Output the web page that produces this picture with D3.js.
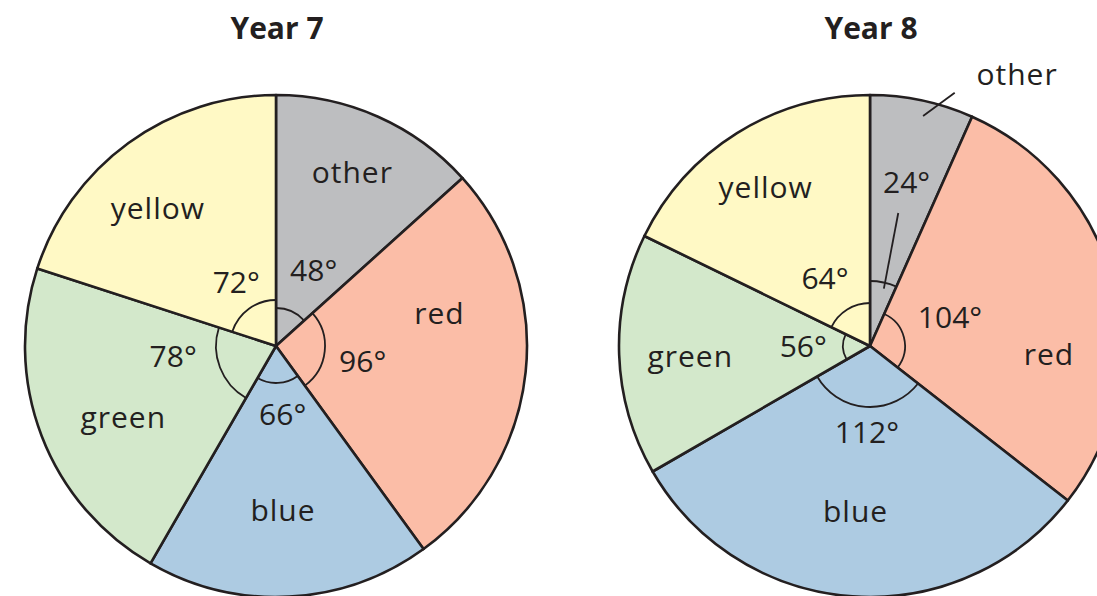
<!DOCTYPE html>
<html>
<head>
<meta charset="utf-8">
<script src="https://cdn.jsdelivr.net/npm/d3@7"></script>
<style>
  html, body { margin: 0; padding: 0; background: #ffffff; }
  svg { display: block; }
  text { font-family: "Open Sans", "Noto Sans", sans-serif; fill: #231f20; }
</style>
</head>
<body>
<svg id="chart" width="1097" height="596"></svg>
<script>
// ---------- data ----------
const categories = ["other", "red", "blue", "green", "yellow"];
const year7Degrees = [48, 96, 66, 78, 72];
const year8Degrees = [24, 104, 112, 56, 64];
const chartTitles = ["Year 7", "Year 8"];

// ---------- styles ----------
const sliceColors = ["#bdbec0", "#fbbda7", "#adcbe2", "#d3e8cb", "#fff9c5"];
const ink = "#231f20";

// ---------- layout (positions kept apart from data) ----------
const pieCentres = [[276, 346], [870, 346]];
const pieRadius = 251;
// polar [angle in degrees clockwise from 12 o'clock, radius] of each label baseline point
const nameLabelPolar = [
  [[25.1, 180], [82.3, 165], [177.7, 175], [241.7, 173.5], [317.1, 173.5]],
  [[29.4, 299.5], [96.1, 180], [184.7, 176.6], [263.2, 181], [324.8, 181]]
];
const degreeLabelPolar = [
  [[30.0, 75.4], [106.7, 90.5], [175.2, 79.6], [258.3, 105], [323.3, 66.5]],
  [[13.5, 157], [77.1, 82.1], [181.8, 97.3], [260.4, 67.7], [321.7, 72.6]]
];
const angleMarkRadius = [
  [38, 49, 37, 60, 46],
  [65, 35, 61, 27, 43]
];
// leader lines [from polar, to polar] — only Year 8 has them
const leaderLines = [
  [],
  [ { from: [13.0, 236], to: [18.5, 267] },   // "other" label
    { from: [12.0, 136], to: [13.6, 59] } ]   // "24°" label
];

const svg = d3.select("#chart");
const rad = d => d * Math.PI / 180;
const polar = (c, a, r) => [c[0] + r * Math.sin(rad(a)), c[1] - r * Math.cos(rad(a))];

const pie = d3.pie().sort(null).value(d => d.value)
  .startAngle(0).endAngle(2 * Math.PI);
const arcGen = d3.arc().innerRadius(0).outerRadius(pieRadius);

[year7Degrees, year8Degrees].forEach((vals, pi) => {
  const c = pieCentres[pi];
  const data = categories.map((name, i) => ({ name, value: vals[i], i }));
  const arcs = pie(data);

  const g = svg.append("g").attr("transform", `translate(${c[0]},${c[1]})`);

  // slices
  g.selectAll("path.slice").data(arcs).enter().append("path")
    .attr("class", "slice")
    .attr("d", arcGen)
    .attr("fill", d => sliceColors[d.data.i])
    .attr("stroke", ink)
    .attr("stroke-width", 2.6)
    .attr("stroke-linejoin", "round");

  // angle marks
  g.selectAll("path.mark").data(arcs).enter().append("path")
    .attr("class", "mark")
    .attr("d", d => {
      const p = d3.path();
      const r = angleMarkRadius[pi][d.data.i];
      p.arc(0, 0, r, d.startAngle - Math.PI / 2, d.endAngle - Math.PI / 2, false);
      return p.toString();
    })
    .attr("fill", "none")
    .attr("stroke", ink)
    .attr("stroke-width", 1.8);

  // leader lines
  leaderLines[pi].forEach(l => {
    const a = polar([0, 0], l.from[0], l.from[1]);
    const b = polar([0, 0], l.to[0], l.to[1]);
    g.append("line")
      .attr("x1", a[0]).attr("y1", a[1]).attr("x2", b[0]).attr("y2", b[1])
      .attr("stroke", ink).attr("stroke-width", 1.8);
  });

  // names
  g.selectAll("text.name").data(arcs).enter().append("text")
    .attr("class", "name")
    .attr("x", d => polar([0, 0], ...nameLabelPolar[pi][d.data.i])[0])
    .attr("y", d => polar([0, 0], ...nameLabelPolar[pi][d.data.i])[1])
    .attr("text-anchor", "middle")
    .attr("font-size", 30)
    .attr("letter-spacing", 1)
    .text(d => d.data.name);

  // degree values
  g.selectAll("text.deg").data(arcs).enter().append("text")
    .attr("class", "deg")
    .attr("x", d => polar([0, 0], ...degreeLabelPolar[pi][d.data.i])[0])
    .attr("y", d => polar([0, 0], ...degreeLabelPolar[pi][d.data.i])[1])
    .attr("text-anchor", "middle")
    .attr("font-size", 30)
    .text(d => d.data.value + "°");

  // title
  svg.append("text")
    .attr("x", c[0] + 1)
    .attr("y", 39)
    .attr("text-anchor", "middle")
    .attr("font-size", 30)
    .attr("font-weight", "bold")
    .text(chartTitles[pi]);
});
</script>
</body>
</html>
